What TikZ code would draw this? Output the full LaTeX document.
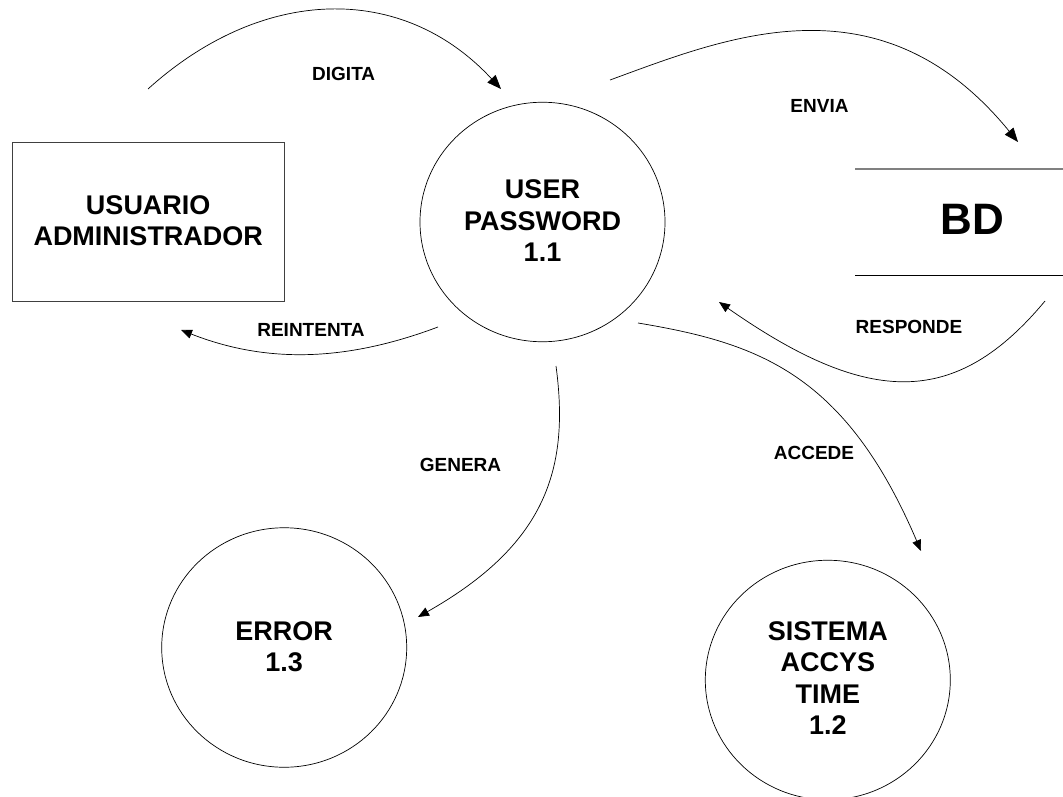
\documentclass[tikz,border=0pt]{standalone}
\usepackage{fontspec}
\setmainfont{Liberation Sans}
\usetikzlibrary{arrows.meta,shapes.geometric}
\newcommand{\hanging}[2]{\raisebox{#1}[0pt][0pt]{\begin{tabular}[t]{@{}c@{}}#2\end{tabular}}}
\tikzset{
 conn/.style={draw=black,line width=0.7pt,-{Triangle[length=11pt,width=9pt]}},
 bigconn/.style={draw=black,line width=0.7pt,-{Triangle[length=14pt,width=11pt]}},
 proc/.style={ellipse,draw=black,line width=0.7pt,minimum width=245pt,minimum height=239.5pt,inner sep=0pt,font=\fontsize{27}{31.6}\selectfont\bfseries},
 ent/.style={draw=black!75,line width=0.9pt,minimum width=272.5pt,minimum height=159.5pt,inner sep=0pt,font=\fontsize{27}{31.6}\selectfont\bfseries},
 lbl/.style={font=\fontsize{19}{22}\selectfont\bfseries,inner sep=0pt},
}
\begin{document}
\begin{tikzpicture}[x=1pt,y=-1pt]
\useasboundingbox (0,0) rectangle (1063,797);
\fill[white] (0,0) rectangle (1063,797);
\node[ent] (ua) at (148.25,222) {\hanging{8pt}{USUARIO\\ADMINISTRADOR}};
\node[proc] (up) at (542.5,222) {\hanging{23.3pt}{USER\\PASSWORD\\1.1}};
\node[proc] (err) at (284.2,647.5) {\hanging{7.5pt}{ERROR\\1.3}};
\node[proc] (sis) at (827.8,680) {\hanging{40pt}{SISTEMA\\ACCYS\\TIME\\1.2}};
\node[font=\fontsize{44}{48}\selectfont\bfseries,inner sep=0pt] (bd) at (972,219) {BD};
\coordinate (b1) at (855,169); \coordinate (b2) at (1063,169);
\coordinate (b3) at (855,275); \coordinate (b4) at (1063,275);
\draw[black!50,line width=1.3pt] (b1) -- (b2);
\draw[black,line width=0.8pt] (b3) -- (b4);
\coordinate (s1) at (148,89); \coordinate (e1) at (501,89);
\coordinate (s2) at (610,80); \coordinate (e2) at (1018,142);
\coordinate (s3) at (1045,301); \coordinate (e3) at (719,302);
\coordinate (s4) at (438,327); \coordinate (e4) at (181,330);
\coordinate (s5) at (556,366); \coordinate (e5) at (418,617);
\coordinate (s6) at (638,323); \coordinate (e6) at (921,551);
\draw[bigconn] (s1) .. controls (262,-14) and (402,-18) .. (e1);
\draw[bigconn] (s2) .. controls (725,38) and (880,-27) .. (e2);
\draw[conn] (s3) .. controls (956,408) and (869,407) .. (e3);
\draw[conn] (s4) .. controls (350,360) and (270,365) .. (e4);
\draw[conn] (s5) .. controls (570,470) and (545,545) .. (e5);
\draw[conn] (s6) .. controls (758,343) and (845,373) .. (e6);
\node[lbl] (l1) at (343.7,74.3) {DIGITA};
\node[lbl] (l2) at (819.5,106) {ENVIA};
\node[lbl] (l3) at (909,327.3) {RESPONDE};
\node[lbl] (l4) at (311,330) {REINTENTA};
\node[lbl] (l5) at (460.5,465) {GENERA};
\node[lbl] (l6) at (814,452.5) {ACCEDE};
\end{tikzpicture}
\end{document}
